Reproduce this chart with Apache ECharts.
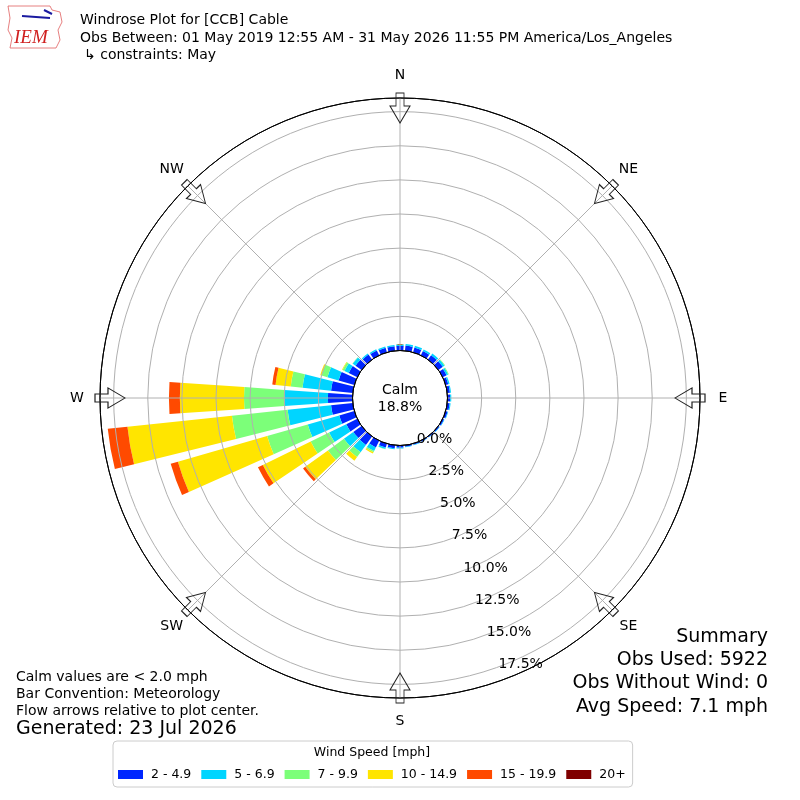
<!DOCTYPE html>
<html><head><meta charset="utf-8">
<script src="https://cdn.jsdelivr.net/npm/echarts@6/dist/echarts.min.js"></script>
<style>html,body{margin:0;padding:0;background:#fff}#c{width:800px;height:800px}</style>
</head><body><div id="c"></div>
<script>
// ---- data ----
const directions = ['0','10','20','30','40','50','60','70','80','90','100','110','120','130','140','150','160','170',
  '180','190','200','210','220','230','240','250','260','270','280','290','300','310','320','330','340','350'];
const speedBins = ['2 - 4.9','5 - 6.9','7 - 9.9','10 - 14.9','15 - 19.9','20+'];
const binColors = ['#0026ff','#00d5ff','#7cff79','#ffe500','#ff4a00','#7f0000'];
// percent of observations, per direction (0..350 deg)
const bin2to5   = [0.33,0.38,0.36,0.35,0.40,0.40,0.32,0.20,0.20,0.20,0.18,0.15,0.11,0.09,0.08,0.08,0.09,0.11,
                   0.16,0.22,0.30,0.55,0.77,0.75,0.90,1.15,1.60,1.80,1.60,1.20,0.70,0.55,0.45,0.40,0.35,0.33];
const bin5to7   = [0.12,0.12,0.14,0.13,0.15,0.15,0.13,0.10,0.08,0.08,0.07,0.05,0.04,0.03,0.02,0.02,0.03,0.04,
                   0.06,0.08,0.10,0.30,0.66,0.85,1.40,2.40,3.20,3.20,2.10,0.85,0.35,0.25,0.10,0.10,0.10,0.09];
const bin7to10  = [0,0,0,0,0,0.05,0.05,0,0,0,0,0,0,0,0,0,0,0,
                   0,0,0.02,0.10,0.44,1.45,1.50,3.10,4.10,2.95,0.87,0.45,0.15,0.03,0,0,0,0];
const bin10to15 = [0,0,0,0,0,0,0,0,0,0,0,0,0,0,0,0,0,0,
                   0,0,0,0.10,0.33,2.05,3.90,6.80,7.70,4.70,1.12,0.10,0.05,0,0,0,0,0];
const bin15to20 = [0,0,0,0,0,0,0,0,0,0,0,0,0,0,0,0,0,0,
                   0,0,0,0,0,0.20,0.40,0.55,1.45,0.80,0.24,0,0,0,0,0,0,0];
const bin20up   = [0,0,0,0,0,0,0,0,0,0,0,0,0,0,0,0,0,0,
                   0,0,0,0,0,0,0,0,0,0,0,0,0,0,0,0,0,0];
const binData = [bin2to5, bin5to7, bin7to10, bin10to15, bin15to20, bin20up];
const compassLabels = ['N','NE','E','SE','S','SW','W','NW'];
const compassAngles = [0,45,90,135,180,225,270,315];
const radialTicks = [0, 2.5, 5, 7.5, 10, 12.5, 15, 17.5];
const calmPercent = '18.8%';
const RING_STEP = 2.5;
const AXIS_MAX = 18.5;
const LABEL_ANGLE = 160;

const FONT = 'DejaVu Sans';
const CENTER = [400, 398];
const RADIUS = [47.5, 300];
const PX_PER_UNIT = (RADIUS[1] - RADIUS[0]) / AXIS_MAX;
const ARROW_R = AXIS_MAX - 10 / PX_PER_UNIT;
const COMPASS_R = AXIS_MAX + 23 / PX_PER_UNIT;
const arrowPath = 'path://M6,0 L14,0 L14,13 L20,13 L10,30 L0,13 L6,13 Z';

const ringColors = ['#000'];
for (let i = 0; i < 7; i++) ringColors.push('#b0b0b0');
ringColors.push('#000');

function tt(text, pos, size, extra) {
  return Object.assign({
    text: text, padding: 0,
    textStyle: {fontSize: size, fontWeight: 'normal', fontFamily: FONT, color: '#000'}
  }, pos, extra || {});
}

const hidden = {symbol: 'circle', symbolSize: 1, itemStyle: {color: 'rgba(0,0,0,0)', opacity: 1}, silent: true, clip: false};

const chart = echarts.init(document.getElementById('c'), null, {renderer: 'canvas'});
chart.setOption({
  backgroundColor: '#fff',
  animation: false,
  textStyle: {fontFamily: FONT},
  title: [
    tt('Windrose Plot for [CCB] Cable', {left: 80, top: 13}, 14),
    tt('Obs Between: 01 May 2019 12:55 AM - 31 May 2026 11:55 PM America/Los_Angeles', {left: 80, top: 31}, 14),
    tt('\u21b3 constraints: May', {left: 84, top: 48}, 14),
    tt('Calm values are < 2.0 mph', {left: 16, top: 670}, 14),
    tt('Bar Convention: Meteorology', {left: 16, top: 687}, 14),
    tt('Flow arrows relative to plot center.', {left: 16, top: 704}, 14),
    tt('Generated: 23 Jul 2026', {left: 16, top: 720}, 19),
    tt('Summary', {right: 32, top: 628}, 19),
    tt('Obs Used: 5922', {right: 32, top: 651}, 19),
    tt('Obs Without Wind: 0', {right: 32, top: 674}, 19),
    tt('Avg Speed: 7.1 mph', {right: 32, top: 698}, 19),
    tt('Calm', {left: 400, top: 383}, 14, {textAlign: 'center'}),
    tt(calmPercent, {left: 400, top: 400}, 14, {textAlign: 'center'}),
    tt('Wind Speed [mph]', {left: 372, top: 746}, 12.5, {textAlign: 'center'})
  ],
  legend: {
    data: speedBins,
    left: 113, top: 741,
    orient: 'horizontal',
    icon: 'rect',
    itemWidth: 25, itemHeight: 9,
    itemGap: 10,
    padding: [27, 7, 6, 5],
    borderColor: '#cccccc', borderWidth: 1, borderRadius: 4,
    textStyle: {fontSize: 12.5, fontFamily: FONT, color: '#000', padding: [0, 0, 0, 3]},
    selectedMode: false
  },
  polar: [
    {center: CENTER, radius: RADIUS},
    {center: CENTER, radius: RADIUS}
  ],
  angleAxis: [
    {polarIndex: 0, type: 'value', min: 0, max: 360, interval: 45, startAngle: 90, clockwise: true, z: 3,
      axisLine: {show: true, lineStyle: {color: '#000', width: 1}},
      axisTick: {show: false},
      axisLabel: {show: false},
      splitLine: {show: true, lineStyle: {color: '#b0b0b0', width: 1}}},
    {polarIndex: 1, type: 'category', data: directions, startAngle: 95, clockwise: true, boundaryGap: true,
      axisLine: {show: false}, axisTick: {show: false}, axisLabel: {show: false}, splitLine: {show: false}}
  ],
  radiusAxis: [
    {polarIndex: 0, type: 'value', min: 0, max: AXIS_MAX, interval: RING_STEP, z: 3,
      axisLine: {show: false}, axisTick: {show: false}, axisLabel: {show: false},
      splitLine: {show: true, lineStyle: {color: ringColors, width: 1}}},
    {polarIndex: 1, type: 'value', min: 0, max: AXIS_MAX, show: false}
  ],
  series: speedBins.map(function (name, k) {
    return {
      type: 'bar', name: name, coordinateSystem: 'polar', polarIndex: 1, stack: 'wind',
      data: binData[k], itemStyle: {color: binColors[k]}, barCategoryGap: '20%', z: 2, silent: true
    };
  }).concat([
    {
      type: 'scatter', coordinateSystem: 'polar', polarIndex: 0, name: 'arrows',
      symbol: arrowPath, symbolSize: [20, 30], clip: false, silent: true, z: 5,
      itemStyle: {color: 'rgba(0,0,0,0)', borderColor: '#222', borderWidth: 1, opacity: 1},
      data: compassAngles.map(function (a) { return {value: [ARROW_R, a], symbolRotate: -a}; })
    },
    Object.assign({
      type: 'scatter', coordinateSystem: 'polar', polarIndex: 0, name: 'compass', z: 6,
      data: compassAngles.map(function (a) { return [COMPASS_R, a]; }),
      label: {show: true, position: 'inside', color: '#000', textBorderWidth: 0, fontSize: 14, fontFamily: FONT,
        formatter: function (p) { return compassLabels[p.dataIndex]; }}
    }, hidden),
    Object.assign({
      type: 'scatter', coordinateSystem: 'polar', polarIndex: 0, name: 'radial', z: 6,
      data: radialTicks.map(function (v) { return [v, LABEL_ANGLE]; }),
      label: {show: true, position: 'right', distance: 0, offset: [0, -3], color: '#000', textBorderWidth: 0, fontSize: 14, fontFamily: FONT,
        formatter: function (p) { return radialTicks[p.dataIndex].toFixed(1) + '%'; }}
    }, hidden)
  ]),
  graphic: [
    {type: 'polyline', shape: {points: [[8,6],[50,6],[52,10],[60,12],[62,22],[58,30],[60,40],[56,48],[10,48],[12,38],[8,30],[10,18],[8,6]]},
      style: {stroke: '#e06060', fill: 'none', lineWidth: 0.8}},
    {type: 'line', shape: {x1: 22, y1: 16, x2: 50, y2: 18}, style: {stroke: '#1a1aa0', lineWidth: 2}},
    {type: 'line', shape: {x1: 44, y1: 10, x2: 52, y2: 14}, style: {stroke: '#1a1aa0', lineWidth: 2}},
    {type: 'text', left: 14, top: 28, style: {text: 'IEM', fill: '#d02020', font: 'italic 19px "Liberation Serif"'}}
  ]
});
</script></body></html>
